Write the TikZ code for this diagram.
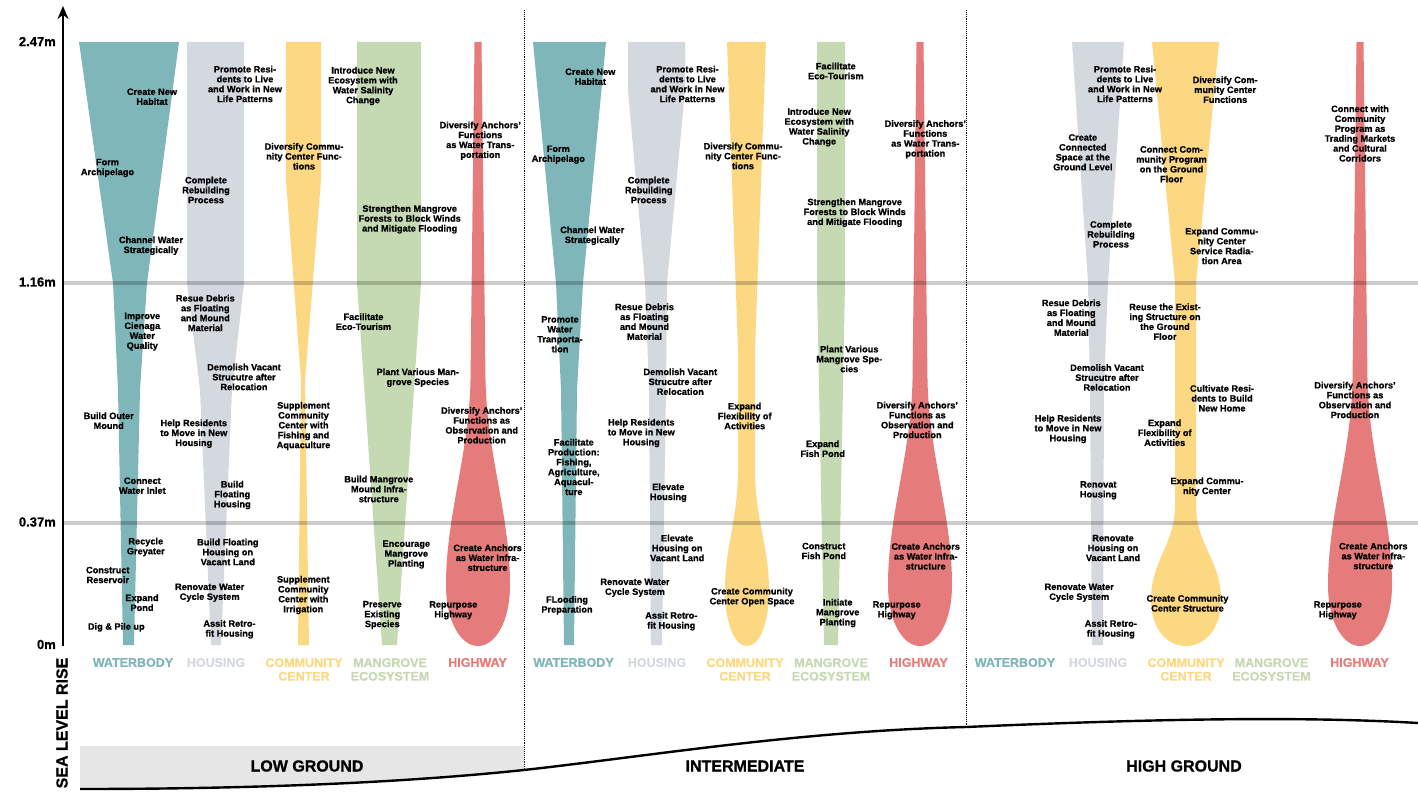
\documentclass[tikz,border=0pt]{standalone}
\usepackage{fontspec}
\setmainfont{Liberation Sans}
\newfontfamily\tb{Liberation Sans Bold}[FakeBold=0.9]
\usetikzlibrary{arrows.meta}
\definecolor{cwat}{RGB}{127,182,185}
\definecolor{chou}{RGB}{212,216,223}
\definecolor{ccom}{RGB}{253,216,130}
\definecolor{cman}{RGB}{197,218,178}
\definecolor{chwy}{RGB}{230,123,123}
\definecolor{cground}{RGB}{230,230,230}
\tikzset{
  lbl/.style={align=center, inner sep=0pt, font=\tb\fontsize{9.2}{9.9}\selectfont},
  cat/.style={align=center, inner sep=0pt, font=\tb\fontsize{12.5}{13.6}\selectfont},
  big/.style={inner sep=0pt, font=\tb\fontsize{16}{18}\selectfont},
  axl/.style={inner sep=0pt, anchor=east, font=\tb\fontsize{13}{15}\selectfont},
  gline/.style={line width=4pt, black, opacity=0.2},
  divider/.style={densely dotted, line width=0.9pt},
  hwbulb/.pic={\fill[chwy] (-3.5,42) -- (-7.5,380) .. controls (-9,455) and (-32,515) .. (-32,585) .. controls (-32,622) and (-17,646) .. (0,646) .. controls (17,646) and (32,622) .. (32,585) .. controls (32,515) and (9,455) .. (7.5,380) -- (3.5,42) -- cycle;}
}
\begin{document}
\begin{tikzpicture}[x=1pt,y=-1pt]
\useasboundingbox (0,0) rectangle (1418,794);

% ---------- shapes: low ground
\fill[cwat] (79,42) -- (179,42) -- (147,283) -- (140,390) -- (134,645) -- (123,645) -- (118,390) -- (113,283) -- cycle;
\fill[chou] (187,42) -- (244,42) -- (244,283) -- (232,390) -- (221,645) -- (211,645) -- (200,390) -- (187,283) -- cycle;
\fill[ccom] (286,42) -- (321,42) -- (321,180) -- (305,380) -- (309,645) -- (298,645) -- (301,380) -- (286,180) -- cycle;
\fill[cman] (357,42) -- (421,42) -- (421,283) -- (397,645) -- (382,645) -- (357,283) -- cycle;
\pic at (478,0) {hwbulb};

% ---------- shapes: intermediate
\fill[cwat] (533,42) -- (606,42) -- (583,283) -- (577,390) -- (574,645) -- (564,645) -- (561,390) -- (556,283) -- cycle;
\fill[chou] (628,42) -- (685,42) -- (685,90) -- (667,283) -- (666,390) -- (662,645) -- (651,645) -- (649,390) -- (645,283) -- (628,90) -- cycle;
\fill[ccom] (727,42) -- (766,42) -- (755,350) -- (755,470) .. controls (755,520) and (769,545) .. (769,590) .. controls (769,625) and (759,646) .. (747,646) .. controls (735,646) and (725,625) .. (725,590) .. controls (725,545) and (738,520) .. (738,470) -- (738,350) -- cycle;
\fill[cman] (817,42) -- (845,42) -- (845,283) -- (838,645) -- (824,645) -- (817,283) -- cycle;
\pic at (920,0) {hwbulb};

% ---------- shapes: high ground
\fill[chou] (1072,42) -- (1124,42) -- (1108,283) -- (1104,390) -- (1103,645) -- (1092,645) -- (1090,390) -- (1088,283) -- cycle;
\fill[ccom] (1152,42) -- (1219,42) -- (1196,283) -- (1196,505) .. controls (1196,545) and (1221,560) .. (1221,600) .. controls (1221,630) and (1204,646) .. (1186,646) .. controls (1168,646) and (1151,630) .. (1151,600) .. controls (1151,560) and (1175,545) .. (1175,505) -- (1175,283) -- cycle;
\pic at (1360,0) {hwbulb};

% ---------- level lines
\coordinate (l1a) at (63,283); \coordinate (l1b) at (1418,283);
\coordinate (l2a) at (63,523); \coordinate (l2b) at (1418,523);
\draw[gline] (l1a) -- (l1b);
\draw[gline] (l2a) -- (l2b);

% ---------- dividers
\coordinate (d1t) at (524,10); \coordinate (d1b) at (524,770);
\coordinate (d2t) at (966,10); \coordinate (d2b) at (966,727);
\draw[divider] (d1t) -- (d1b);
\draw[divider] (d2t) -- (d2b);

% ---------- axis
\coordinate (ax0) at (63,646); \coordinate (ax1) at (63,6);
\draw[line width=2.3pt, -{Stealth[length=13pt,width=11pt]}] (ax0) -- (ax1);
\node[axl] (y1) at (56,41.5) {2.47m};
\node[axl] (y2) at (56,282) {1.16m};
\node[axl] (y3) at (56,522) {0.37m};
\node[axl] (y4) at (56,644.5) {0m};
\node[big, rotate=90] (slr) at (62,723) {SEA LEVEL RISE};

% ---------- ground
\fill[cground] (80,746) -- (524,746) -- (524,770) .. controls (400,783) and (250,789) .. (80,789) -- cycle;
\draw[line width=2.4pt] (80,789) .. controls (250,789) and (400,783) .. (524,770) .. controls (650,756) and (800,731) .. (966,727) .. controls (1150,719) and (1300,716) .. (1418,723);
\node[big] (g1) at (307,766) {LOW GROUND};
\node[big] (g2) at (745,766) {INTERMEDIATE};
\node[big] (g3) at (1184,766) {HIGH GROUND};

% ---------- category labels
\node[cat, cwat] (k1) at (133,662.5) {WATERBODY};
\node[cat, chou] (k2) at (216,662.5) {HOUSING};
\node[cat, ccom] (k3) at (304,669.5) {COMMUNITY\\CENTER};
\node[cat, cman] (k4) at (390,669.5) {MANGROVE\\ECOSYSTEM};
\node[cat, chwy] (k5) at (477.5,662.5) {HIGHWAY};
\node[cat, cwat] (k6) at (573.5,662.5) {WATERBODY};
\node[cat, chou] (k7) at (657,662.5) {HOUSING};
\node[cat, ccom] (k8) at (745,669.5) {COMMUNITY\\CENTER};
\node[cat, cman] (k9) at (831,669.5) {MANGROVE\\ECOSYSTEM};
\node[cat, chwy] (k10) at (918.5,662.5) {HIGHWAY};
\node[cat, cwat] (k11) at (1015,662.5) {WATERBODY};
\node[cat, chou] (k12) at (1098,662.5) {HOUSING};
\node[cat, ccom] (k13) at (1186,669.5) {COMMUNITY\\CENTER};
\node[cat, cman] (k14) at (1271.5,669.5) {MANGROVE\\ECOSYSTEM};
\node[cat, chwy] (k15) at (1359.5,662.5) {HIGHWAY};

% ---------- texts: low ground
\node[lbl] (a1) at (152,96.7) {Create New\\Habitat};
\node[lbl] (a2) at (245,84) {Promote Resi-\\dents to Live\\and Work in New\\Life Patterns};
\node[lbl] (a3) at (363,86) {Introduce New\\Ecosystem with\\Water Salinity\\Change};
\node[lbl] (a4) at (304,156.3) {Diversify Commu-\\nity Center Func-\\tions};
\node[lbl] (a5) at (480.3,140.7) {Diversify Anchors’\\Functions\\as Water Trans-\\portation};
\node[lbl] (a6) at (107.5,168) {Form\\Archipelago};
\node[lbl] (a7) at (206,190) {Complete\\Rebuilding\\Process};
\node[lbl] (a8) at (409.7,219.3) {Strengthen Mangrove\\Forests to Block Winds\\and Mitigate Flooding};
\node[lbl] (a9) at (151,245.7) {Channel Water\\Strategically};
\node[lbl] (a10) at (205.3,313) {Resue Debris\\as Floating\\and Mound\\Material};
\node[lbl] (a11) at (142.3,331.7) {Improve\\Cienaga\\Water\\Quality};
\node[lbl] (a12) at (363.5,321.7) {Facilitate\\Eco-Tourism};
\node[lbl] (a13) at (244,377) {Demolish Vacant\\Strucutre after\\Relocation};
\node[lbl] (a14) at (417.8,377.7) {Plant Various Man-\\grove Species};
\node[lbl] (a15) at (108.7,420.7) {Build Outer\\Mound};
\node[lbl] (a16) at (193.8,433.7) {Help Residents\\to Move in New\\Housing};
\node[lbl] (a17) at (303.5,426) {Supplement\\Community\\Center with\\Fishing and\\Aquaculture};
\node[lbl] (a18) at (481.7,425.3) {Diversify Anchors’\\Functions as\\Observation and\\Production};
\node[lbl] (a19) at (142.3,485.7) {Connect\\Water Inlet};
\node[lbl] (a20) at (232.3,495) {Build\\Floating\\Housing};
\node[lbl] (a21) at (378.8,489) {Build Mangrove\\Mound Infra-\\structure};
\node[lbl] (a22) at (145.8,547) {Recycle\\Greyater};
\node[lbl] (a23) at (227.8,552) {Build Floating\\Housing on\\Vacant Land};
\node[lbl] (a24) at (406.3,554.5) {Encourage\\Mangrove\\Planting};
\node[lbl] (a25) at (487.6,557.7) {Create Anchors\\as Water Infra-\\structure};
\node[lbl] (a26) at (107.8,575) {Construct\\Reservoir};
\node[lbl] (a27) at (303.3,595) {Supplement\\Community\\Center with\\Irrigation};
\node[lbl] (a28) at (209.7,592.7) {Renovate Water\\Cycle System};
\node[lbl] (a29) at (142,602.7) {Expand\\Pond};
\node[lbl] (a30) at (382.3,615) {Preserve\\Existing\\Species};
\node[lbl] (a31) at (453.3,610.3) {Repurpose\\Highway};
\node[lbl] (a32) at (116.3,627.3) {Dig \& Pile up};
\node[lbl] (a33) at (229.5,629.3) {Assit Retro-\\fit Housing};

% ---------- texts: intermediate
\node[lbl] (b1) at (590.3,76.7) {Create New\\Habitat};
\node[lbl] (b2) at (687.5,84) {Promote Resi-\\dents to Live\\and Work in New\\Life Patterns};
\node[lbl] (b3) at (835.8,71) {Facilitate\\Eco-Tourism};
\node[lbl] (b4) at (819.2,127.3) {Introduce New\\Ecosystem with\\Water Salinity\\Change};
\node[lbl] (b5) at (743,156) {Diversify Commu-\\nity Center Func-\\tions};
\node[lbl] (b6) at (925.3,139.3) {Diversify Anchors’\\Functions\\as Water Trans-\\portation};
\node[lbl] (b7) at (558.3,154.7) {Form\\Archipelago};
\node[lbl] (b8) at (648.7,190) {Complete\\Rebuilding\\Process};
\node[lbl] (b9) at (854.7,212.7) {Strengthen Mangrove\\Forests to Block Winds\\and Mitigate Flooding};
\node[lbl] (b10) at (592.2,235.7) {Channel Water\\Strategically};
\node[lbl] (b11) at (644.5,321.7) {Resue Debris\\as Floating\\and Mound\\Material};
\node[lbl] (b12) at (560,334.3) {Promote\\Water\\Tranporta-\\tion};
\node[lbl] (b13) at (680.3,381.7) {Demolish Vacant\\Strucutre after\\Relocation};
\node[lbl] (b14) at (849.3,359) {Plant Various\\Mangrove Spe-\\cies};
\node[lbl] (b15) at (744.7,416) {Expand\\Flexibility of\\Activities};
\node[lbl] (b16) at (917.3,420) {Diversify Anchors’\\Functions as\\Observation and\\Production};
\node[lbl] (b17) at (641.3,433) {Help Residents\\to Move in New\\Housing};
\node[lbl] (b18) at (822.7,448.7) {Expand\\Fish Pond};
\node[lbl] (b19) at (573.8,467) {Facilitate\\Production:\\Fishing,\\Agriculture,\\Aquacul-\\ture};
\node[lbl] (b20) at (668.3,492.7) {Elevate\\Housing};
\node[lbl] (b21) at (677.2,548) {Elevate\\Housing on\\Vacant Land};
\node[lbl] (b22) at (823.8,551) {Construct\\Fish Pond};
\node[lbl] (b23) at (925.7,556.3) {Create Anchors\\as Water Infra-\\structure};
\node[lbl] (b24) at (635,587.7) {Renovate Water\\Cycle System};
\node[lbl] (b25) at (752,597) {Create Community\\Center Open Space};
\node[lbl] (b26) at (567,605.3) {FLooding\\Preparation};
\node[lbl] (b27) at (837.7,613) {Initiate\\Mangrove\\Planting};
\node[lbl] (b28) at (896.7,610.3) {Repurpose\\Highway};
\node[lbl] (b29) at (671.3,621.2) {Assit Retro-\\fit Housing};

% ---------- texts: high ground
\node[lbl] (c1) at (1125,84) {Promote Resi-\\dents to Live\\and Work in New\\Life Patterns};
\node[lbl] (c2) at (1225.2,89.7) {Diversify Com-\\munity Center\\Functions};
\node[lbl] (c3) at (1360,133.5) {Connect with\\Community\\Program as\\Trading Markets\\and Cultural\\Corridors};
\node[lbl] (c4) at (1082.8,152.3) {Create\\Connected\\Space at the\\Ground Level};
\node[lbl] (c5) at (1171.5,164.3) {Connect Com-\\munity Program\\on the Ground\\Floor};
\node[lbl] (c6) at (1111,234.3) {Complete\\Rebuilding\\Process};
\node[lbl] (c7) at (1221.7,246) {Expand Commu-\\nity Center\\Service Radia-\\tion Area};
\node[lbl] (c8) at (1071.3,317.7) {Resue Debris\\as Floating\\and Mound\\Material};
\node[lbl] (c9) at (1165,321.7) {Reuse the Exist-\\ing Structure on\\the Ground\\Floor};
\node[lbl] (c10) at (1107,377.5) {Demolish Vacant\\Strucutre after\\Relocation};
\node[lbl] (c11) at (1222,398.3) {Cultivate Resi-\\dents to Build\\New Home};
\node[lbl] (c12) at (1355,400) {Diversify Anchors’\\Functions as\\Observation and\\Production};
\node[lbl] (c13) at (1068,429) {Help Residents\\to Move in New\\Housing};
\node[lbl] (c14) at (1164.7,432.7) {Expand\\Flexibility of\\Activities};
\node[lbl] (c15) at (1098.3,490.3) {Renovat\\Housing};
\node[lbl] (c16) at (1207,486.7) {Expand Commu-\\nity Center};
\node[lbl] (c17) at (1113,548) {Renovate\\Housing on\\Vacant Land};
\node[lbl] (c18) at (1373.3,556) {Create Anchors\\as Water Infra-\\structure};
\node[lbl] (c19) at (1079.2,592.7) {Renovate Water\\Cycle System};
\node[lbl] (c20) at (1187.5,603.3) {Create Community\\Center Structure};
\node[lbl] (c21) at (1337.8,610.3) {Repurpose\\Highway};
\node[lbl] (c22) at (1110.8,629.3) {Assit Retro-\\fit Housing};
\end{tikzpicture}
\end{document}
